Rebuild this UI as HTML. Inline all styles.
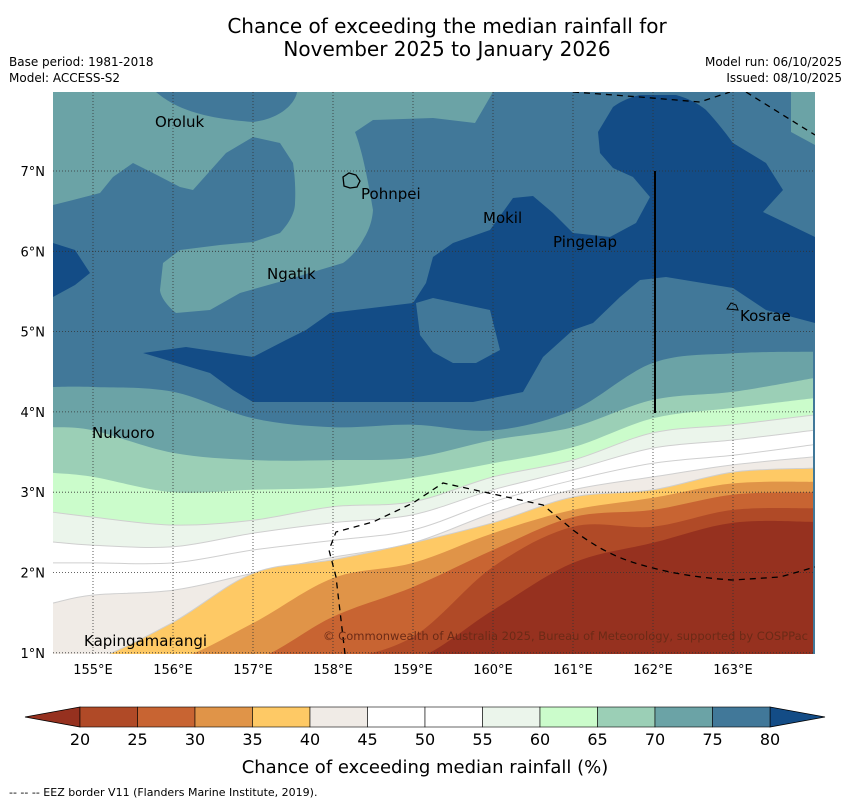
<!DOCTYPE html>
<html><head><meta charset="utf-8"><style>
html,body{margin:0;padding:0;background:#fff;overflow:hidden;width:850px;height:804px;font-family:"Liberation Sans","DejaVu Sans",sans-serif;}
svg{display:block;}
svg text{font-family:"DejaVu Sans","Liberation Sans",sans-serif;}
</style></head><body>
<svg id="chart" width="850" height="804" viewBox="0 0 850 804" xmlns="http://www.w3.org/2000/svg">
<text x="447" y="33" font-size="20" text-anchor="middle">Chance of exceeding the median rainfall for</text>
<text x="447" y="56" font-size="20" text-anchor="middle">November 2025 to January 2026</text>
<text x="9" y="66" font-size="12">Base period: 1981-2018</text>
<text x="9" y="82" font-size="12">Model: ACCESS-S2</text>
<text x="842" y="66" font-size="12" text-anchor="end">Model run: 06/10/2025</text>
<text x="842" y="82" font-size="12" text-anchor="end">Issued: 08/10/2025</text>
<defs><clipPath id="plotclip"><rect x="53" y="92" width="762" height="562"/></clipPath></defs>
<g id="map" clip-path="url(#plotclip)">
<rect x="53" y="92" width="762" height="562" fill="#417899"/>
<path fill="#6ba3a6" d="M53,92 L156,92 C175,108 200,118 253,122 C285,118 296,100 297,92 L493,92 L475,123 L433,118 L373,120 L355,132 C362,150 368,180 373,210 C372,225 366,235 363,240 C355,255 343,263 343,263 L286,280 L240,293 L210,310 L176,313 C160,300 160,290 160,290 L163,263 L180,250 L220,245 L253,242 L280,233 C292,220 295,210 295,203 C296,185 294,170 293,163 L280,143 L253,137 L226,153 L193,190 L180,187 L153,173 L133,163 L113,177 L100,193 L73,200 L53,205 Z"/>
<path fill="#6ba3a6" d="M791,92 L815,92 L815,145 L791,132 Z"/>
<path fill="#134c86" d="M53,243 L75,250 L90,273 L75,285 L53,297 Z"/>
<path fill="#134c86" d="M613,107 C625,98 640,95 640,95 L676,95 C695,100 706,110 706,110 C720,125 733,143 733,143 L766,163 L783,190 L763,212 L786,223 L815,237 L815,323 L766,310 L733,288 L666,277 L640,280 L620,297 L593,323 L573,330 L543,357 L523,392 L473,402 L253,402 L233,390 L210,373 L143,353 L186,347 L253,357 L286,340 L306,330 L330,313 L413,303 L426,283 L433,257 L453,243 L490,230 L513,198 L533,196 L553,213 L573,233 L610,237 L636,223 L650,197 L633,177 L613,168 L600,153 L598,132 Z"/>
<path fill="#417899" d="M416,303 L433,298 L490,310 L495,330 L500,350 L476,363 L453,363 L433,352 L420,335 Z"/>
<g id="bands"></g>
<g id="grid"></g>
<path d="M573,92 L640,97 L700,102 L730,92" fill="none" stroke="#000" stroke-width="1.3" stroke-dasharray="6,5"/>
<path d="M746,92 L815,135" fill="none" stroke="#000" stroke-width="1.3" stroke-dasharray="6,5"/>
<path d="M345,654 L336,577 L329,550 L336,532 L373,522 L413,503 L443,483 L543,505 L573,530 C600,550 620,560 653,568 C690,578 733,580 733,580 L780,577 L815,567" fill="none" stroke="#000" stroke-width="1.3" stroke-dasharray="6,5"/>
<line x1="655" y1="171" x2="655" y2="413" stroke="#000" stroke-width="2"/>
<path d="M343,177 L349,173 L356,175 L360,181 L357,187 L350,188 L344,186 Z" fill="none" stroke="#000" stroke-width="1.3"/>
<path d="M727,309 L731,303 L736,305 L738,310 Z" fill="none" stroke="#000" stroke-width="1"/>
<text x="155" y="127" font-size="15">Oroluk</text>
<text x="361" y="199" font-size="15">Pohnpei</text>
<text x="483" y="223" font-size="15">Mokil</text>
<text x="553" y="247" font-size="15">Pingelap</text>
<text x="267" y="279" font-size="15">Ngatik</text>
<text x="740" y="321" font-size="15">Kosrae</text>
<text x="92" y="438" font-size="15">Nukuoro</text>
<text x="84" y="646" font-size="15">Kapingamarangi</text>
<text x="323" y="640" font-size="11.5" fill="#6b2a16" textLength="485" lengthAdjust="spacingAndGlyphs">© Commonwealth of Australia 2025, Bureau of Meteorology, supported by COSPPac</text>
</g>
<g id="axes"></g>
<g id="colorbar"></g>
<text x="425" y="773" font-size="18" text-anchor="middle">Chance of exceeding median rainfall (%)</text>
<text x="9" y="796" font-size="11">--  --  -- EEZ border V11 (Flanders Marine Institute, 2019).</text>
</svg>
<script>
const lons = [154.5,155,156,157,158,159,160,161,162,163,164];
const b75 = [4.31,4.31,4.25,3.92,3.81,3.84,3.77,4.02,4.61,4.73,4.75];
const b70 = [3.81,3.77,3.49,3.40,3.40,3.43,3.65,3.81,4.15,4.25,4.42];
const b65 = [3.24,3.19,3.00,3.03,3.06,3.18,3.36,3.56,3.92,4.05,4.17];
const b60 = [2.75,2.69,2.59,2.65,2.82,2.88,3.19,3.40,3.74,3.84,3.96];
const b55 = [2.38,2.34,2.32,2.49,2.62,2.72,3.03,3.28,3.55,3.65,3.77];
const b50 = [2.12,2.12,2.12,2.28,2.40,2.53,2.88,3.15,3.36,3.46,3.59];
const b45 = [1.62,1.72,1.78,1.99,2.19,2.37,2.74,3.03,3.19,3.34,3.44];
const b40 = [-1,-0.35,1.38,1.99,2.16,2.37,2.62,2.94,3.03,3.25,3.30];
const b35 = [-3,-2,-0.6,1.37,1.93,2.12,2.49,2.78,2.93,3.11,3.13];
const b30 = [-3,-2,-1,0.15,1.45,1.82,2.28,2.69,2.78,2.97,3.00];
const b25 = [-3,-2,-1,-0.5,0.2,1.2,2.07,2.57,2.57,2.78,2.80];
const b20 = [-3,-2,-1,-0.5,0,0.68,1.53,2.12,2.37,2.62,2.63];
const levels = [20,25,30,35,40,45,50,55,60,65,70,75,80];
const bandColors = ["#b04a27","#c86432","#e09448","#fec965","#f0ebe6","#ffffff","#ffffff","#ebf5eb","#cbfccb","#9bcfb6","#6ba3a6","#417899"];
const lonTicks = [155,156,157,158,159,160,161,162,163];
const latTicks = [1,2,3,4,5,6,7];
const NS="http://www.w3.org/2000/svg";
function px(lon){return 53+(lon-154.5)*80;}
function py(lat){return 171+(7-lat)*80.3;}
function smooth(pts){
  let d="M"+pts[0][0]+","+pts[0][1];
  for(let i=0;i<pts.length-1;i++){
    const p0=pts[Math.max(0,i-1)],p1=pts[i],p2=pts[i+1],p3=pts[Math.min(pts.length-1,i+2)];
    const c1=[p1[0]+(p2[0]-p0[0])/6,Math.min(660,p1[1]+(p2[1]-p0[1])/6)];
    const c2=[p2[0]-(p3[0]-p1[0])/6,Math.min(660,p2[1]-(p3[1]-p1[1])/6)];
    d+=" C"+c1[0].toFixed(1)+","+c1[1].toFixed(1)+" "+c2[0].toFixed(1)+","+c2[1].toFixed(1)+" "+p2[0].toFixed(1)+","+p2[1].toFixed(1);
  }
  return d;
}
const bounds=[[b75,"#6ba3a6",75],[b70,"#9bcfb6",70],[b65,"#cbfccb",65],[b60,"#ebf5eb",60],[b55,"#ffffff",55],[b50,"#ffffff",50],[b45,"#f0ebe6",45],[b40,"#fec965",40],[b35,"#e09448",35],[b30,"#c86432",30],[b25,"#b04a27",25],[b20,"#96311f",20]];
const bg=document.getElementById("bands");
bounds.forEach(([arr,col,lev])=>{
  const pts=lons.map((l,i)=>[px(l),Math.min(660,py(arr[i]))]);
  const line=smooth(pts);
  const p=document.createElementNS(NS,"path");
  p.setAttribute("d",line+" L"+px(164)+",660 L"+px(154.5)+",660 Z");
  p.setAttribute("fill",col);
  
  
  bg.appendChild(p);
  if(lev<=60 && lev>=40){
    const s=document.createElementNS(NS,"path");
    s.setAttribute("d",line);
    s.setAttribute("fill","none");s.setAttribute("stroke","#cfcfcf");s.setAttribute("stroke-width","1");
    
    
    bg.appendChild(s);
  }
});
const grid=document.getElementById("grid");
lonTicks.forEach(l=>{
  const ln=document.createElementNS(NS,"line");
  ln.setAttribute("x1",px(l));ln.setAttribute("x2",px(l));ln.setAttribute("y1",92);ln.setAttribute("y2",654);
  ln.setAttribute("stroke","#333");ln.setAttribute("stroke-width","0.8");ln.setAttribute("stroke-dasharray","1,2");
  
  
  grid.appendChild(ln);
});
latTicks.forEach(l=>{
  const ln=document.createElementNS(NS,"line");
  ln.setAttribute("y1",py(l));ln.setAttribute("y2",py(l));ln.setAttribute("x1",53);ln.setAttribute("x2",815);
  ln.setAttribute("stroke","#333");ln.setAttribute("stroke-width","0.8");ln.setAttribute("stroke-dasharray","1,2");
  
  
  grid.appendChild(ln);
});
const axes=document.getElementById("axes");
lonTicks.forEach(l=>{
  const t=document.createElementNS(NS,"text");
  t.setAttribute("x",px(l));t.setAttribute("y",674);t.setAttribute("font-size","13");t.setAttribute("text-anchor","middle");
  t.textContent=l+"°E";
  
  
  axes.appendChild(t);
});
latTicks.forEach(l=>{
  const t=document.createElementNS(NS,"text");
  t.setAttribute("x",45);t.setAttribute("y",py(l)+5);t.setAttribute("font-size","13");t.setAttribute("text-anchor","end");
  t.textContent=l+"°N";
  
  
  axes.appendChild(t);
});
const cb=document.getElementById("colorbar");
const cx0=80,cx1=770,cy0=707,cy1=727,cw=(cx1-cx0)/bandColors.length;
function cbx(v){return cx0+(v-20)/5*cw;}
const lt=document.createElementNS(NS,"polygon");
lt.setAttribute("points",cx0+","+cy0+" 25,717 "+cx0+","+cy1);lt.setAttribute("fill","#96311f");lt.setAttribute("stroke","#000");lt.setAttribute("stroke-width","0.8");


cb.appendChild(lt);
const rt=document.createElementNS(NS,"polygon");
rt.setAttribute("points",cx1+","+cy0+" 825,717 "+cx1+","+cy1);rt.setAttribute("fill","#134c86");rt.setAttribute("stroke","#000");rt.setAttribute("stroke-width","0.8");


cb.appendChild(rt);
bandColors.forEach((c,i)=>{
  const r=document.createElementNS(NS,"rect");
  r.setAttribute("x",cbx(levels[i]));r.setAttribute("y",cy0);r.setAttribute("width",cw);r.setAttribute("height",cy1-cy0);
  r.setAttribute("fill",c);r.setAttribute("stroke","#000");r.setAttribute("stroke-width","0.6");
  
  
  cb.appendChild(r);
});
levels.forEach(v=>{
  const t=document.createElementNS(NS,"text");
  t.setAttribute("x",cbx(v));t.setAttribute("y",745);t.setAttribute("font-size","16");t.setAttribute("text-anchor","middle");
  t.textContent=v;
  
  
  cb.appendChild(t);
});
</script>
</body></html>
